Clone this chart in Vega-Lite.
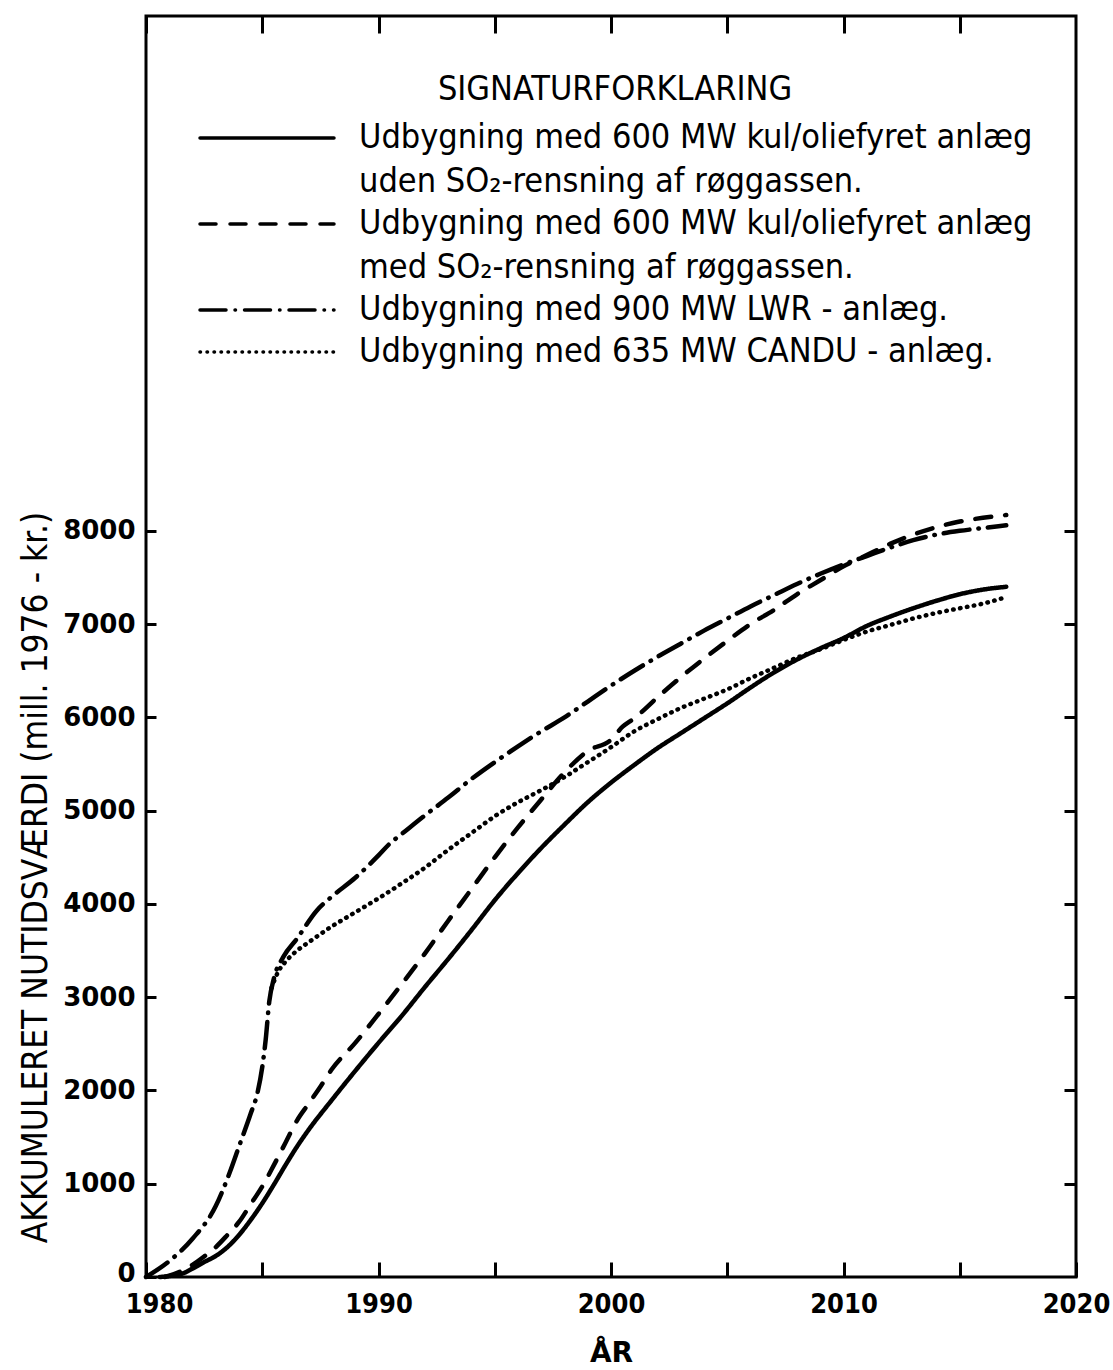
{
  "$schema": "https://vega.github.io/schema/vega-lite/v6.json",
  "width": 930,
  "height": 1261,
  "autosize": {"type": "none"},
  "padding": {"left": 146, "top": 16, "right": 37, "bottom": 93},
  "background": "white",
  "config": {
    "view": {"stroke": "black", "strokeWidth": 3},
    "axis": {"grid": false, "domain": false, "tickColor": "black", "tickWidth": 3, "labelColor": "black", "titleColor": "black"}
  },
  "data": {
    "values": [
      {"serie": "uden", "year": 1980.6, "value": 0},
      {"serie": "uden", "year": 1981, "value": 10},
      {"serie": "uden", "year": 1981.6, "value": 40},
      {"serie": "uden", "year": 1982, "value": 90},
      {"serie": "uden", "year": 1982.5, "value": 160},
      {"serie": "uden", "year": 1983, "value": 225},
      {"serie": "uden", "year": 1983.5, "value": 320},
      {"serie": "uden", "year": 1984, "value": 450},
      {"serie": "uden", "year": 1984.5, "value": 610},
      {"serie": "uden", "year": 1985, "value": 790},
      {"serie": "uden", "year": 1985.5, "value": 990},
      {"serie": "uden", "year": 1986, "value": 1200},
      {"serie": "uden", "year": 1986.5, "value": 1400},
      {"serie": "uden", "year": 1987, "value": 1580},
      {"serie": "uden", "year": 1988, "value": 1900},
      {"serie": "uden", "year": 1989, "value": 2210},
      {"serie": "uden", "year": 1990, "value": 2510},
      {"serie": "uden", "year": 1991, "value": 2800},
      {"serie": "uden", "year": 1992, "value": 3110},
      {"serie": "uden", "year": 1993, "value": 3410},
      {"serie": "uden", "year": 1994, "value": 3720},
      {"serie": "uden", "year": 1995, "value": 4040},
      {"serie": "uden", "year": 1996, "value": 4330},
      {"serie": "uden", "year": 1997, "value": 4600},
      {"serie": "uden", "year": 1998, "value": 4850},
      {"serie": "uden", "year": 1999, "value": 5090},
      {"serie": "uden", "year": 2000, "value": 5300},
      {"serie": "uden", "year": 2001, "value": 5490},
      {"serie": "uden", "year": 2002, "value": 5670},
      {"serie": "uden", "year": 2003, "value": 5830},
      {"serie": "uden", "year": 2004, "value": 5990},
      {"serie": "uden", "year": 2005, "value": 6150},
      {"serie": "uden", "year": 2006, "value": 6320},
      {"serie": "uden", "year": 2007, "value": 6480},
      {"serie": "uden", "year": 2008, "value": 6620},
      {"serie": "uden", "year": 2009, "value": 6740},
      {"serie": "uden", "year": 2010, "value": 6850},
      {"serie": "uden", "year": 2011, "value": 6980},
      {"serie": "uden", "year": 2012, "value": 7080},
      {"serie": "uden", "year": 2013, "value": 7170},
      {"serie": "uden", "year": 2014, "value": 7250},
      {"serie": "uden", "year": 2015, "value": 7320},
      {"serie": "uden", "year": 2016, "value": 7370},
      {"serie": "uden", "year": 2017, "value": 7400},

      {"serie": "med", "year": 1980.8, "value": 0},
      {"serie": "med", "year": 1981.5, "value": 60},
      {"serie": "med", "year": 1982, "value": 130},
      {"serie": "med", "year": 1982.5, "value": 220},
      {"serie": "med", "year": 1983, "value": 320},
      {"serie": "med", "year": 1983.5, "value": 450},
      {"serie": "med", "year": 1984, "value": 590},
      {"serie": "med", "year": 1984.5, "value": 780},
      {"serie": "med", "year": 1985, "value": 970},
      {"serie": "med", "year": 1985.5, "value": 1200},
      {"serie": "med", "year": 1986, "value": 1440},
      {"serie": "med", "year": 1986.5, "value": 1680},
      {"serie": "med", "year": 1987, "value": 1860},
      {"serie": "med", "year": 1987.5, "value": 2040},
      {"serie": "med", "year": 1988, "value": 2230},
      {"serie": "med", "year": 1989, "value": 2510},
      {"serie": "med", "year": 1990, "value": 2820},
      {"serie": "med", "year": 1991, "value": 3140},
      {"serie": "med", "year": 1992, "value": 3470},
      {"serie": "med", "year": 1993, "value": 3820},
      {"serie": "med", "year": 1994, "value": 4160},
      {"serie": "med", "year": 1995, "value": 4500},
      {"serie": "med", "year": 1996, "value": 4820},
      {"serie": "med", "year": 1997, "value": 5120},
      {"serie": "med", "year": 1998, "value": 5410},
      {"serie": "med", "year": 1999, "value": 5640},
      {"serie": "med", "year": 2000, "value": 5760},
      {"serie": "med", "year": 2000.5, "value": 5900},
      {"serie": "med", "year": 2001, "value": 5990},
      {"serie": "med", "year": 2002, "value": 6215},
      {"serie": "med", "year": 2003, "value": 6430},
      {"serie": "med", "year": 2004, "value": 6630},
      {"serie": "med", "year": 2005, "value": 6820},
      {"serie": "med", "year": 2006, "value": 7000},
      {"serie": "med", "year": 2007, "value": 7150},
      {"serie": "med", "year": 2008, "value": 7320},
      {"serie": "med", "year": 2009, "value": 7470},
      {"serie": "med", "year": 2010, "value": 7620},
      {"serie": "med", "year": 2011, "value": 7740},
      {"serie": "med", "year": 2012, "value": 7860},
      {"serie": "med", "year": 2013, "value": 7960},
      {"serie": "med", "year": 2014, "value": 8040},
      {"serie": "med", "year": 2015, "value": 8100},
      {"serie": "med", "year": 2016, "value": 8140},
      {"serie": "med", "year": 2017, "value": 8170},

      {"serie": "LWR", "year": 1980, "value": 0},
      {"serie": "LWR", "year": 1981, "value": 170},
      {"serie": "LWR", "year": 1982, "value": 410},
      {"serie": "LWR", "year": 1983, "value": 760},
      {"serie": "LWR", "year": 1983.6, "value": 1120},
      {"serie": "LWR", "year": 1984, "value": 1400},
      {"serie": "LWR", "year": 1984.5, "value": 1750},
      {"serie": "LWR", "year": 1984.8, "value": 1980},
      {"serie": "LWR", "year": 1985, "value": 2250},
      {"serie": "LWR", "year": 1985.15, "value": 2550},
      {"serie": "LWR", "year": 1985.3, "value": 2950},
      {"serie": "LWR", "year": 1985.5, "value": 3200},
      {"serie": "LWR", "year": 1985.9, "value": 3430},
      {"serie": "LWR", "year": 1986.5, "value": 3630},
      {"serie": "LWR", "year": 1987.35, "value": 3930},
      {"serie": "LWR", "year": 1988, "value": 4080},
      {"serie": "LWR", "year": 1989, "value": 4280},
      {"serie": "LWR", "year": 1990, "value": 4520},
      {"serie": "LWR", "year": 1990.5, "value": 4650},
      {"serie": "LWR", "year": 1991, "value": 4750},
      {"serie": "LWR", "year": 1992, "value": 4950},
      {"serie": "LWR", "year": 1993, "value": 5140},
      {"serie": "LWR", "year": 1994, "value": 5340},
      {"serie": "LWR", "year": 1995, "value": 5520},
      {"serie": "LWR", "year": 1996, "value": 5690},
      {"serie": "LWR", "year": 1997, "value": 5850},
      {"serie": "LWR", "year": 1998, "value": 6000},
      {"serie": "LWR", "year": 1999, "value": 6170},
      {"serie": "LWR", "year": 2000, "value": 6340},
      {"serie": "LWR", "year": 2001, "value": 6500},
      {"serie": "LWR", "year": 2002, "value": 6650},
      {"serie": "LWR", "year": 2003, "value": 6790},
      {"serie": "LWR", "year": 2004, "value": 6930},
      {"serie": "LWR", "year": 2005, "value": 7060},
      {"serie": "LWR", "year": 2006, "value": 7190},
      {"serie": "LWR", "year": 2007, "value": 7310},
      {"serie": "LWR", "year": 2008, "value": 7430},
      {"serie": "LWR", "year": 2009, "value": 7540},
      {"serie": "LWR", "year": 2010, "value": 7640},
      {"serie": "LWR", "year": 2011, "value": 7730},
      {"serie": "LWR", "year": 2012, "value": 7820},
      {"serie": "LWR", "year": 2013, "value": 7900},
      {"serie": "LWR", "year": 2014, "value": 7960},
      {"serie": "LWR", "year": 2015, "value": 8000},
      {"serie": "LWR", "year": 2016, "value": 8030},
      {"serie": "LWR", "year": 2017, "value": 8060},

      {"serie": "CANDU", "year": 1985.4, "value": 3100},
      {"serie": "CANDU", "year": 1985.7, "value": 3280},
      {"serie": "CANDU", "year": 1986, "value": 3380},
      {"serie": "CANDU", "year": 1986.5, "value": 3500},
      {"serie": "CANDU", "year": 1987, "value": 3590},
      {"serie": "CANDU", "year": 1988, "value": 3760},
      {"serie": "CANDU", "year": 1989, "value": 3910},
      {"serie": "CANDU", "year": 1990, "value": 4060},
      {"serie": "CANDU", "year": 1991, "value": 4220},
      {"serie": "CANDU", "year": 1992, "value": 4390},
      {"serie": "CANDU", "year": 1993, "value": 4580},
      {"serie": "CANDU", "year": 1994, "value": 4760},
      {"serie": "CANDU", "year": 1995, "value": 4940},
      {"serie": "CANDU", "year": 1996, "value": 5090},
      {"serie": "CANDU", "year": 1997, "value": 5220},
      {"serie": "CANDU", "year": 1998, "value": 5360},
      {"serie": "CANDU", "year": 1999, "value": 5520},
      {"serie": "CANDU", "year": 2000, "value": 5680},
      {"serie": "CANDU", "year": 2001, "value": 5850},
      {"serie": "CANDU", "year": 2002, "value": 5980},
      {"serie": "CANDU", "year": 2003, "value": 6100},
      {"serie": "CANDU", "year": 2004, "value": 6200},
      {"serie": "CANDU", "year": 2005, "value": 6300},
      {"serie": "CANDU", "year": 2006, "value": 6420},
      {"serie": "CANDU", "year": 2007, "value": 6530},
      {"serie": "CANDU", "year": 2008, "value": 6640},
      {"serie": "CANDU", "year": 2009, "value": 6730},
      {"serie": "CANDU", "year": 2010, "value": 6830},
      {"serie": "CANDU", "year": 2011, "value": 6920},
      {"serie": "CANDU", "year": 2012, "value": 6990},
      {"serie": "CANDU", "year": 2013, "value": 7060},
      {"serie": "CANDU", "year": 2014, "value": 7120},
      {"serie": "CANDU", "year": 2015, "value": 7170},
      {"serie": "CANDU", "year": 2016, "value": 7220},
      {"serie": "CANDU", "year": 2017, "value": 7290}
    ]
  },
  "layer": [
    {
      "mark": {"type": "line", "color": "black", "strokeWidth": 4.5, "strokeCap": "round", "strokeJoin": "round", "interpolate": "monotone"},
      "encoding": {
        "x": {
          "field": "year", "type": "quantitative",
          "scale": {"domain": [1980, 2020], "nice": false, "zero": false},
          "axis": {
            "orient": "bottom",
            "values": [1980, 1985, 1990, 1995, 2000, 2005, 2010, 2015, 2020],
            "format": "d",
            "labelExpr": "datum.value % 10 === 0 ? datum.label : ''",
            "labelFlush": false,
            "labelOverlap": false,
            "labelOffset": {"condition": {"test": "datum.value === 1980", "value": 13}, "value": 0},
            "tickSize": -15,
            "labelPadding": 29,
            "labelFont": "DejaVu Sans Condensed",
            "labelFontWeight": "bold",
            "labelFontSize": 27,
            "title": "ÅR",
            "titleFont": "DejaVu Sans",
            "titleFontWeight": "bold",
            "titleFontSize": 28,
            "titleX": 465,
            "titleY": 76,
            "titleBaseline": "middle"
          }
        },
        "y": {
          "field": "value", "type": "quantitative",
          "scale": {"domain": [0, 13520], "nice": false},
          "axis": {
            "orient": "left",
            "values": [0, 1000, 2000, 3000, 4000, 5000, 6000, 7000, 8000],
            "format": "d",
            "labelOverlap": false,
            "labelOffset": {"condition": {"test": "datum.value === 0", "value": -4}, "value": 0},
            "tickSize": -10,
            "labelPadding": 21,
            "labelFont": "DejaVu Sans",
            "labelFontWeight": "bold",
            "labelFontSize": 26,
            "title": "AKKUMULERET NUTIDSVÆRDI  (mill. 1976 - kr.)",
            "titleFont": "DejaVu Sans Condensed",
            "titleFontWeight": "normal",
            "titleFontSize": 35,
            "titleAngle": 270,
            "titleX": -111,
            "titleY": 861,
            "titleAlign": "center",
            "titleBaseline": "middle"
          }
        },
        "strokeDash": {
          "field": "serie", "type": "nominal",
          "scale": {
            "domain": ["uden", "med", "LWR", "CANDU"],
            "range": [[1, 0], [16, 14], [26, 9, 0.5, 9], [0.5, 6.5]]
          },
          "legend": {
            "orient": "none",
            "legendX": 52,
            "legendY": 57,
            "padding": 0,
            "title": "SIGNATURFORKLARING",
            "titleFont": "DejaVu Sans Condensed",
            "titleFontSize": 34,
            "titleFontWeight": "normal",
            "titleColor": "black",
            "titleAnchor": "middle",
            "titlePadding": 11,
            "titleLimit": 1000,
            "symbolType": "M-3.722,0H3.722",
            "symbolSize": 1296,
            "symbolOffset": 49,
            "symbolStrokeWidth": 3.5,
            "symbolStrokeColor": "black",
            "labelFont": "DejaVu Sans Condensed",
            "labelFontSize": 34,
            "labelColor": "black",
            "labelLimit": 900,
            "labelOffset": 72,
            "labelBaseline": "middle",
            "rowPadding": 5,
            "labelExpr": "datum.value === 'uden' ? ['Udbygning med 600 MW kul/oliefyret anlæg', 'uden SO₂-rensning af røggassen.'] : datum.value === 'med' ? ['Udbygning med 600 MW kul/oliefyret anlæg', 'med SO₂-rensning af røggassen.'] : datum.value === 'LWR' ? 'Udbygning med 900 MW LWR - anlæg.' : 'Udbygning med 635 MW CANDU - anlæg.'",
            "encode": {
              "labels": {"update": {"lineHeight": {"value": 44}}},
              "symbols": {"update": {"strokeCap": {"value": "round"}}}
            }
          }
        }
      }
    },
    {
      "mark": {"type": "line", "opacity": 0},
      "encoding": {
        "x": {
          "field": "year", "type": "quantitative",
          "axis": {
            "orient": "top",
            "values": [1980, 1985, 1990, 1995, 2000, 2005, 2010, 2015],
            "labels": false,
            "tickSize": -17,
            "title": null
          }
        },
        "y": {
          "field": "value", "type": "quantitative",
          "axis": {
            "orient": "right",
            "values": [1000, 2000, 3000, 4000, 5000, 6000, 7000, 8000],
            "labels": false,
            "tickSize": -12,
            "title": null
          }
        }
      }
    }
  ],
  "resolve": {"axis": {"x": "independent", "y": "independent"}}
}
